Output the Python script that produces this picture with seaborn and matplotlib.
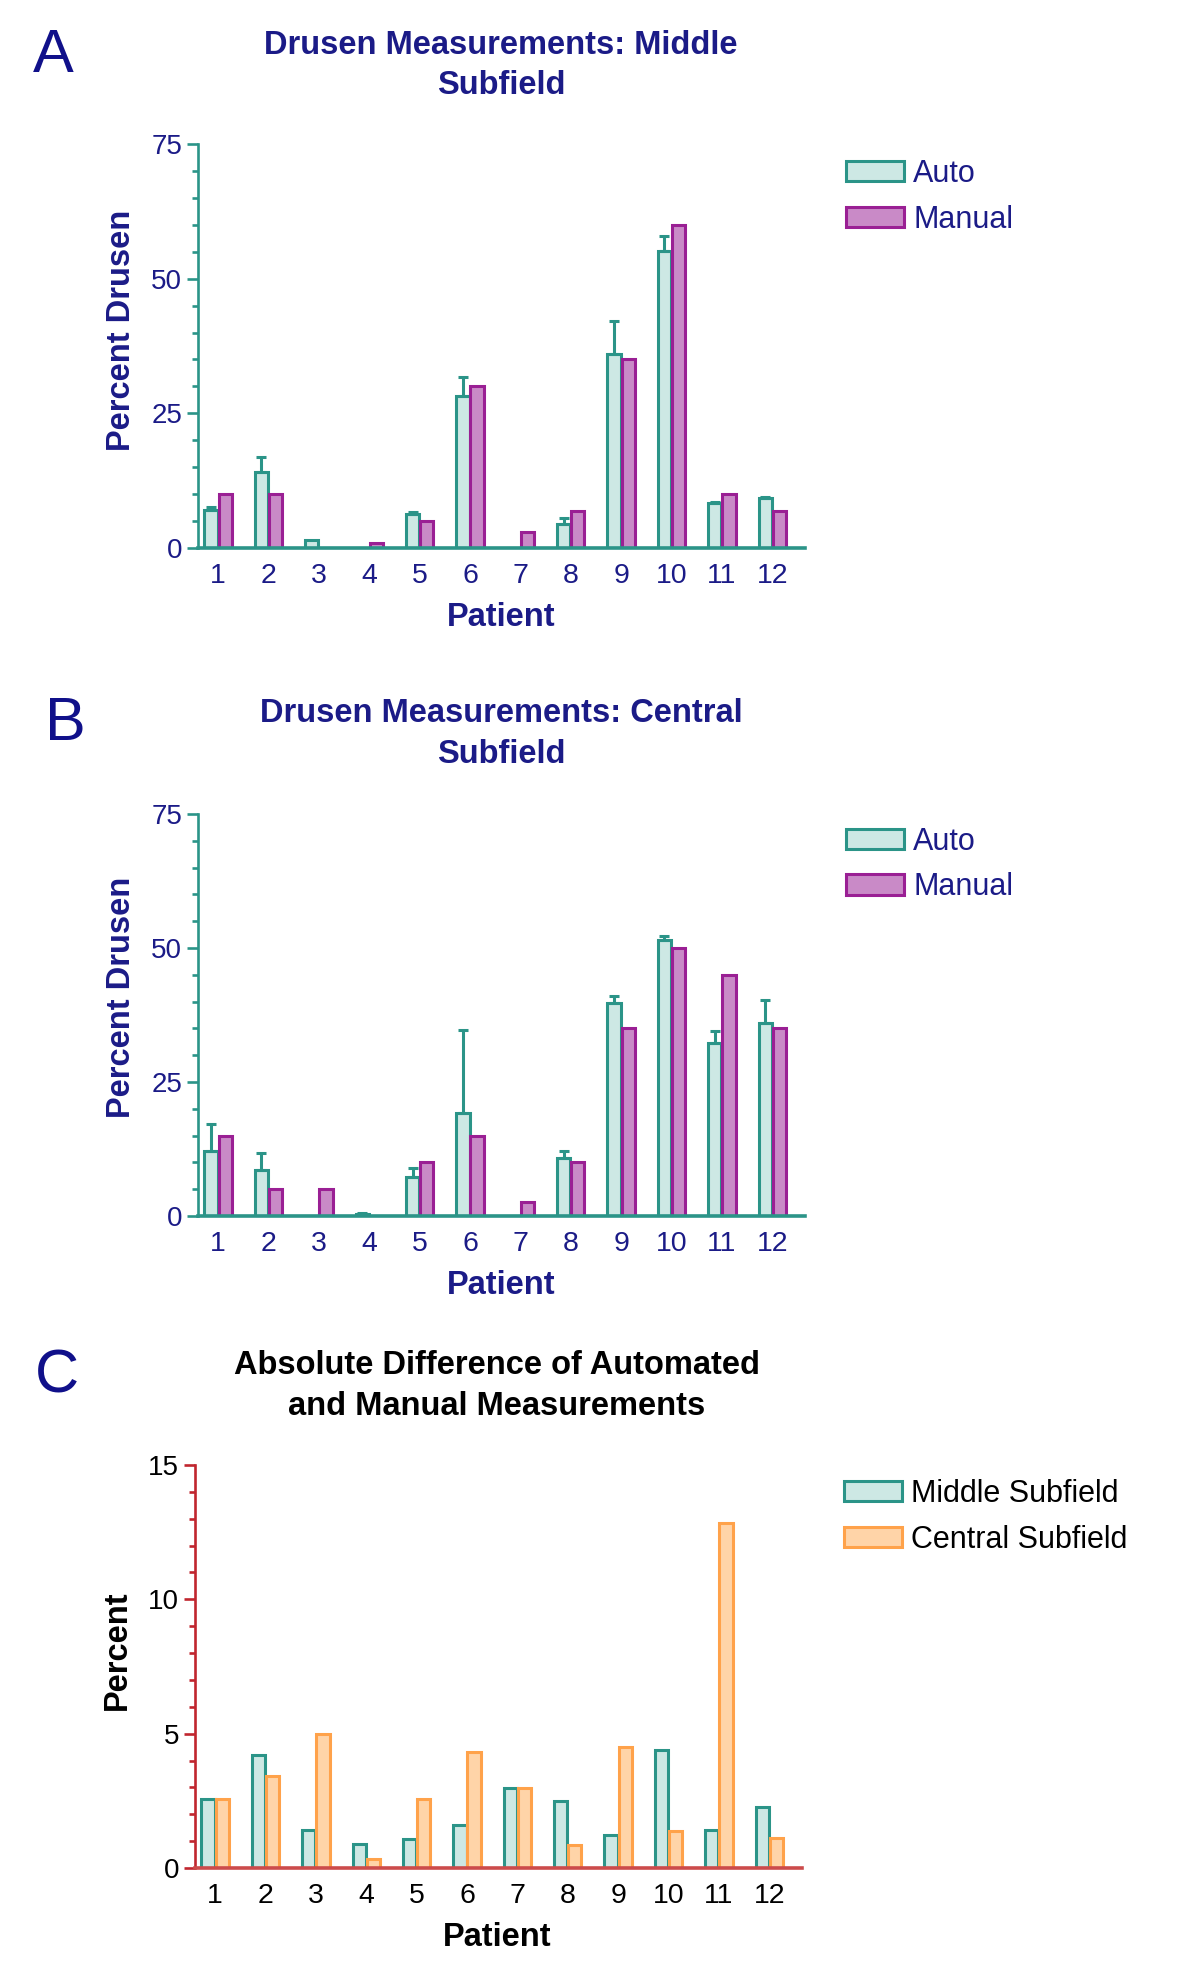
import numpy as np
import pandas as pd
import matplotlib
matplotlib.use("Agg")
import matplotlib.pyplot as plt
from matplotlib.ticker import MultipleLocator
import seaborn as sns

# ---------------- data ----------------
patients = [str(i) for i in range(1, 13)]

a_auto = [7.1, 14.1, 1.4, 0.0, 6.4, 28.3, 0.0, 4.5, 36.1, 55.2, 8.3, 9.2]
a_auto_sd = [0.5, 2.8, 0.0, 0.0, 0.3, 3.4, 0.0, 1.1, 6.1, 2.8, 0.3, 0.3]
a_manual = [10.0, 10.0, 0.0, 0.9, 5.1, 30.0, 3.0, 6.9, 35.0, 60.0, 10.0, 6.9]

b_auto = [12.1, 8.6, 0.0, 0.4, 7.2, 19.2, 0.0, 10.9, 39.7, 51.5, 32.3, 36.1]
b_auto_sd = [5.0, 3.1, 0.0, 0.2, 1.7, 15.5, 0.0, 1.3, 1.3, 0.8, 2.3, 4.2]
b_manual = [15.0, 5.0, 5.0, 0.0, 10.0, 15.0, 2.7, 10.0, 35.0, 50.0, 45.0, 35.0]

c_middle = [2.58, 4.2, 1.4, 0.9, 1.09, 1.59, 2.96, 2.48, 1.22, 4.38, 1.4, 2.27]
c_central = [2.58, 3.42, 4.97, 0.32, 2.58, 4.3, 2.96, 0.87, 4.5, 1.38, 12.83, 1.13]

titles = ["Drusen Measurements: Middle\nSubfield",
          "Drusen Measurements: Central\nSubfield",
          "Absolute Difference of Automated\nand Manual Measurements"]
letters = ["A", "B", "C"]
ylabels = ["Percent Drusen", "Percent Drusen", "Percent"]
series_ab = ["Auto", "Manual"]
series_c = ["Middle Subfield", "Central Subfield"]

# ---------------- style ----------------
sns.set_style("white")
plt.rcParams["font.family"] = ["Liberation Sans", "DejaVu Sans"]

NAVY = "#1b1b87"
TEAL = "#2b9488"
TEAL_F = "#cde8e4"
PURP = "#9a1f94"
PURP_F = "#c98ac7"
ORNG = "#ffa24a"
ORNG_F = "#ffd4a8"
RED = "#c0262e"
RED_BASE = "#cc4b4b"

W, H = 1200, 1975
fig = plt.figure(figsize=(W / 100, H / 100), dpi=100)


def fx(px):
    return px / W


def fy(py):
    return 1 - py / H


def long_df(names, cols):
    rows = []
    for n, vals in zip(names, cols):
        for p, v in zip(patients, vals):
            rows.append({"Patient": p, "Series": n, "Value": v})
    return pd.DataFrame(rows)


def panel(rect, df, names, fills, edges, ymax, major, minor, spine_col,
          base_col, txt_col, sd=None):
    ax = fig.add_axes(rect)
    sns.barplot(data=df, x="Patient", y="Value", hue="Series",
                order=patients, hue_order=names,
                palette=dict(zip(names, fills)), saturation=1,
                width=0.56, gap=0.06, errorbar=None, linewidth=2.2,
                legend=False, ax=ax)
    for cont, ec in zip(ax.containers, edges):
        for p in cont:
            p.set_edgecolor(ec)
    handles = list(ax.containers[:2])
    if sd is not None:
        sd = np.asarray(sd)
        bars = ax.containers[0]
        xs = np.array([p.get_x() + p.get_width() / 2 for p in bars])
        hs = np.array([p.get_height() for p in bars])
        m = sd > 0
        ax.errorbar(xs[m], hs[m], yerr=[np.zeros(m.sum()), sd[m]], fmt="none",
                    ecolor=edges[0], elinewidth=2.2, capsize=3.5, capthick=2.2,
                    zorder=3)
    ax.set_xlim(-0.4, 11.65)
    ax.set_ylim(0, ymax)
    ax.set_xlabel("")
    ax.set_ylabel("")
    ax.set_yticks(np.arange(0, ymax + 0.1, major))
    ax.yaxis.set_minor_locator(MultipleLocator(minor))
    for s in ["top", "right"]:
        ax.spines[s].set_visible(False)
    ax.spines["left"].set_color(spine_col)
    ax.spines["left"].set_linewidth(1.9)
    ax.spines["bottom"].set_color(base_col)
    ax.spines["bottom"].set_linewidth(2.6)
    ax.spines["bottom"].set_zorder(4)
    ax.tick_params(axis="y", which="major", length=8, width=1.9,
                   color=spine_col, labelcolor=txt_col, labelsize=20, pad=3.5,
                   left=True)
    ax.tick_params(axis="y", which="minor", length=4.5, width=1.9,
                   color=spine_col, left=True)
    ax.tick_params(axis="x", length=0, pad=11, labelsize=20.5,
                   labelcolor=txt_col)
    ax.grid(False)
    return ax, handles


def axrect(left, right, top, bottom):
    return [fx(left), fy(bottom), fx(right) - fx(left), (bottom - top) / H]


# ---------- Panel A ----------
axA, hA = panel(axrect(198, 805, 144, 548), long_df(series_ab, [a_auto, a_manual]),
                series_ab, [TEAL_F, PURP_F], [TEAL, PURP], 75, 25, 5,
                TEAL, TEAL, NAVY, sd=a_auto_sd)
# ---------- Panel B ----------
axB, hB = panel(axrect(198, 805, 814, 1216), long_df(series_ab, [b_auto, b_manual]),
                series_ab, [TEAL_F, PURP_F], [TEAL, PURP], 75, 25, 5,
                TEAL, TEAL, NAVY, sd=b_auto_sd)
# ---------- Panel C ----------
axC, hC = panel(axrect(195, 802, 1465, 1868), long_df(series_c, [c_middle, c_central]),
                series_c, [TEAL_F, ORNG_F], [TEAL, ORNG], 15, 5, 1,
                RED, RED_BASE, "black")

# titles, letters, axis labels
title_y = [65.5, 734, 1386]
title_x = [501, 501, 497]
title_col = [NAVY, NAVY, "black"]
letter_pos = [(53, 56), (65, 724), (57, 1377)]
ylab_pos = [(121, 330), (121, 997), (117, 1650)]
xlab_pos = [(501, 617), (501, 1285), (497, 1937)]
lab_col = [NAVY, NAVY, "black"]

for i in range(3):
    fig.text(fx(title_x[i]), fy(title_y[i]), titles[i], ha="center", va="center",
             fontsize=23.5, fontweight="bold", color=title_col[i], linespacing=1.38)
    fig.text(fx(letter_pos[i][0]), fy(letter_pos[i][1]), letters[i], ha="center",
             va="center", fontsize=44, color="#10108a")
    fig.text(fx(ylab_pos[i][0]), fy(ylab_pos[i][1]), ylabels[i], rotation=90,
             ha="center", va="center", fontsize=23.5, fontweight="bold",
             color=lab_col[i])
    fig.text(fx(xlab_pos[i][0]), fy(xlab_pos[i][1]), "Patient", ha="center",
             va="center", fontsize=23.5, fontweight="bold", color=lab_col[i])

# legends
leg_specs = [(hA, series_ab, 846, 159, NAVY),
             (hB, series_ab, 846, 826.5, NAVY),
             (hC, series_c, 844, 1479, "black")]
for handles, labels, lx, ly, col in leg_specs:
    leg = fig.legend(handles, labels, loc="upper left",
                     bbox_to_anchor=(fx(lx), fy(ly)), frameon=False,
                     borderpad=0, borderaxespad=0, handlelength=1.9,
                     handleheight=0.65, handletextpad=0.3, labelspacing=0.52,
                     fontsize=22)
    for t in leg.get_texts():
        t.set_color(col)

fig.savefig("out.png", dpi=100)
